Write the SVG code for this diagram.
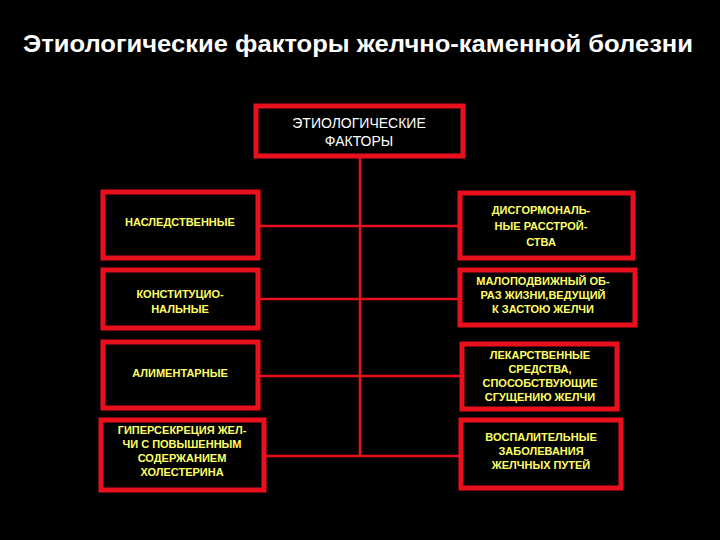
<svg xmlns="http://www.w3.org/2000/svg" width="720" height="540" viewBox="0 0 720 540">
<style>
.box{fill:#000;stroke:#e8101c;stroke-width:5}
.ln{stroke:#e8101c;stroke-width:2.5;fill:none}
.t{font-family:"Liberation Sans",Arial,sans-serif;font-weight:bold;font-size:11px;fill:#ffff66;text-anchor:middle}
</style>
<rect width="720" height="540" fill="#000"/>
<text x="358" y="52" textLength="670" lengthAdjust="spacingAndGlyphs" style="font-family:'Liberation Sans',Arial,sans-serif;font-weight:bold;font-size:23px;fill:#fff;text-anchor:middle">Этиологические факторы желчно-каменной болезни</text>
<g id="connectors">
<line class="ln" x1="360" y1="156" x2="360" y2="456"/>
<line class="ln" x1="258" y1="226" x2="460" y2="226"/>
<line class="ln" x1="258" y1="299" x2="460" y2="299"/>
<line class="ln" x1="258" y1="376" x2="462" y2="376"/>
<line class="ln" x1="264" y1="456" x2="461" y2="456"/>
</g>
<g id="top"><rect class="box" x="256" y="106" width="207" height="50"/>
<text class="t" style="font-size:14px;font-weight:normal;fill:#fff" x="359" y="128">ЭТИОЛОГИЧЕСКИЕ</text>
<text class="t" style="font-size:14px;font-weight:normal;fill:#fff" x="359" y="146">ФАКТОРЫ</text></g>
<g id="l1"><rect class="box" x="103" y="192" width="155" height="66"/><text class="t" x="180" y="226">НАСЛЕДСТВЕННЫЕ</text></g>
<g id="l2"><rect class="box" x="103" y="270" width="155" height="58"/><text class="t" x="180" y="298">КОНСТИТУЦИО-</text><text class="t" x="180" y="313">НАЛЬНЫЕ</text></g>
<g id="l3"><rect class="box" x="103" y="342" width="155" height="66"/><text class="t" x="180" y="377">АЛИМЕНТАРНЫЕ</text></g>
<g id="l4"><rect class="box" x="101" y="420" width="163" height="70"/>
<text class="t" x="182" y="434">ГИПЕРСЕКРЕЦИЯ ЖЕЛ-</text><text class="t" x="182" y="448">ЧИ С ПОВЫШЕННЫМ</text><text class="t" x="182" y="462">СОДЕРЖАНИЕМ</text><text class="t" x="182" y="476">ХОЛЕСТЕРИНА</text></g>
<g id="r1"><rect class="box" x="460" y="193" width="173" height="65"/>
<text class="t" x="541" y="214">ДИСГОРМОНАЛЬ-</text><text class="t" x="541" y="230">НЫЕ РАССТРОЙ-</text><text class="t" x="541" y="246">СТВА</text></g>
<g id="r2"><rect class="box" x="460" y="270" width="175" height="55"/>
<text class="t" x="543" y="285">МАЛОПОДВИЖНЫЙ ОБ-</text><text class="t" x="543" y="299">РАЗ ЖИЗНИ,ВЕДУЩИЙ</text><text class="t" x="543" y="313">К ЗАСТОЮ ЖЕЛЧИ</text></g>
<g id="r3"><rect class="box" x="462" y="344" width="155" height="65"/>
<text class="t" x="540" y="359">ЛЕКАРСТВЕННЫЕ</text><text class="t" x="540" y="373">СРЕДСТВА,</text><text class="t" x="540" y="387">СПОСОБСТВУЮЩИЕ</text><text class="t" x="540" y="401">СГУЩЕНИЮ ЖЕЛЧИ</text></g>
<g id="r4"><rect class="box" x="461" y="420" width="160" height="68"/>
<text class="t" x="541" y="441">ВОСПАЛИТЕЛЬНЫЕ</text><text class="t" x="541" y="455">ЗАБОЛЕВАНИЯ</text><text class="t" x="541" y="469">ЖЕЛЧНЫХ ПУТЕЙ</text></g>
</svg>
